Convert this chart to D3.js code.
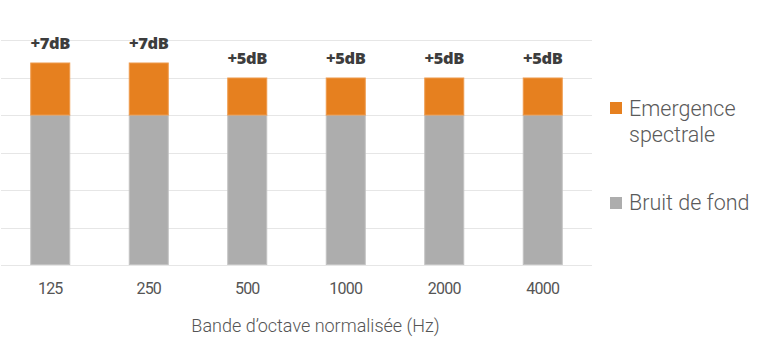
<!DOCTYPE html>
<html>
<head>
<meta charset="utf-8">
<script src="https://cdn.jsdelivr.net/npm/d3@7"></script>
<style>
  html, body { margin: 0; padding: 0; background: #fff; }
  svg { display: block; }
</style>
</head>
<body>
<svg id="chart" width="768" height="356"></svg>
<script>
const categories = ["125", "250", "500", "1000", "2000", "4000"];
const bruitDeFond = [20, 20, 20, 20, 20, 20];
const emergence = [7, 7, 5, 5, 5, 5];
const yTicks = [0, 5, 10, 15, 20, 25, 30];
const seriesNames = ["Emergence spectrale", "Bruit de fond"];
const axisTitle = "Bande d’octave normalisée (Hz)";

const colors = { emergence: "#E6801F", bruit: "#ADADAD" };
const strokes = { emergence: "#EE9A4C", bruit: "#C2C2C2" };

const svg = d3.select("#chart");

const x = d3.scaleBand().domain(categories).range([1, 592]).paddingInner(0).paddingOuter(0);
const y = d3.scaleLinear().domain([0, 30]).range([265, 40]);
const barW = 40;

// gridlines
svg.append("g")
  .selectAll("line")
  .data(yTicks)
  .join("line")
  .attr("x1", 1).attr("x2", 592)
  .attr("y1", d => Math.round(y(d)) + 0.5)
  .attr("y2", d => Math.round(y(d)) + 0.5)
  .attr("stroke", "#E6E6E6")
  .attr("stroke-width", 1);

const data = categories.map((c, i) => ({ cat: c, bruit: bruitDeFond[i], em: emergence[i] }));

const cx = d => x(d.cat) + x.bandwidth() / 2;

// gray bars
svg.append("g")
  .selectAll("rect")
  .data(data)
  .join("rect")
  .attr("x", d => cx(d) - barW / 2 + 0.5)
  .attr("y", d => y(d.bruit))
  .attr("width", barW - 1)
  .attr("height", d => y(0) - y(d.bruit) - 0.5)
  .attr("fill", colors.bruit)
  .attr("stroke", strokes.bruit)
  .attr("stroke-width", 1);

// orange bars
svg.append("g")
  .selectAll("rect")
  .data(data)
  .join("rect")
  .attr("x", d => cx(d) - barW / 2 + 0.5)
  .attr("y", d => y(d.bruit + d.em) + 0.5)
  .attr("width", barW - 1)
  .attr("height", d => y(d.bruit) - y(d.bruit + d.em) - 0.5)
  .attr("fill", colors.emergence)
  .attr("stroke", strokes.emergence)
  .attr("stroke-width", 1);

// value labels
svg.append("g")
  .selectAll("text")
  .data(data)
  .join("text")
  .attr("x", d => cx(d))
  .attr("y", d => y(d.bruit + d.em) - 13.5)
  .attr("text-anchor", "middle")
  .attr("font-family", "'Open Sans', sans-serif")
  .attr("font-weight", 800)
  .attr("font-size", "16.5px")
  .attr("letter-spacing", "-0.4px")
  .attr("fill", "#3D3D3D")
  .text(d => "+" + d.em + "dB");

// x axis tick labels
const xAxis = d3.axisBottom(x).tickSize(0).tickPadding(0);
const gx = svg.append("g").attr("transform", "translate(0,293.5)").call(xAxis);
gx.select(".domain").remove();
gx.selectAll("text")
  .attr("dy", 0)
  .attr("y", 0)
  .attr("font-family", "Roboto, sans-serif")
  .attr("font-size", "16px")
  .attr("font-weight", 400)
  .attr("letter-spacing", "-0.8px")
  .attr("fill", "#555555");

// axis title
svg.append("text")
  .attr("x", 315.5)
  .attr("y", 332.3)
  .attr("text-anchor", "middle")
  .attr("font-family", "Roboto, sans-serif")
  .attr("font-weight", 300)
  .attr("font-size", "18px")
  .attr("fill", "#555555")
  .text(axisTitle);

// legend
const legend = svg.append("g");
const legendItems = [
  { lines: ["Emergence", "spectrale"], color: colors.emergence, sy: 102, ty: 116 },
  { lines: ["Bruit de fond"], color: colors.bruit, sy: 197, ty: 209.5 }
];
legendItems.forEach(item => {
  legend.append("rect")
    .attr("x", 610).attr("y", item.sy)
    .attr("width", 12).attr("height", 12)
    .attr("fill", item.color);
  const t = legend.append("text")
    .attr("x", 629).attr("y", item.ty)
    .attr("font-family", "Roboto, sans-serif")
    .attr("font-weight", 300)
    .attr("font-size", "21.5px")
    .attr("fill", "#5A5A5A");
  item.lines.forEach((ln, i) => {
    t.append("tspan").attr("x", 629).attr("dy", i === 0 ? 0 : 25.7).text(ln);
  });
});
</script>
</body>
</html>
